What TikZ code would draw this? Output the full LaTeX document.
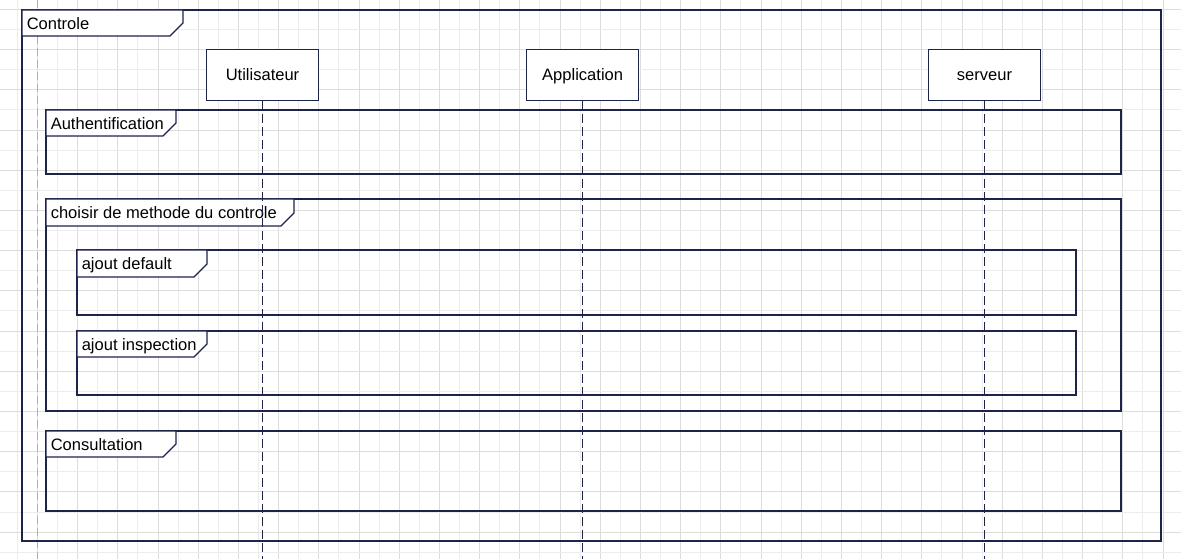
\documentclass[tikz,border=0pt]{standalone}
\usepackage{fontspec}
\setmainfont{Liberation Sans}
\usepackage{tikz}
\usetikzlibrary{positioning,calc}
\definecolor{navy}{RGB}{30,35,75}
\definecolor{gridlight}{RGB}{236,236,236}
\definecolor{griddark}{RGB}{220,220,220}
\definecolor{framegray}{RGB}{175,175,175}
\tikzstyle{actor} = [draw=navy, fill=white, rectangle, line width=0.8pt, minimum width=84pt, minimum height=38.25pt, text height=9pt, text depth=0pt, font=\fontsize{12.4}{14}\selectfont]
\tikzstyle{lifeline} = [draw=navy, line width=0.8pt, dash pattern=on 6.75pt off 3pt]
\tikzstyle{frag} = [draw=navy, line width=0.8pt]
\tikzstyle{fragtab} = [draw=navy, fill=white, line width=0.8pt]
\tikzstyle{fraglabel} = [anchor=base west, inner sep=0pt, font=\fontsize{12.4}{14}\selectfont]

\begin{document}
\begin{tikzpicture}[x=0.75pt, y=-0.75pt]
    \useasboundingbox (0,0) rectangle (1181,559);
    \fill[white] (0,0) rectangle (1181,559);
    % grid
    \foreach \k in {0,2,...,58} \draw[gridlight, line width=0.75pt] (17.3+20.1*\k,0) -- ++(0,559);
    \foreach \k in {1,3,...,57} \draw[griddark, line width=0.75pt] (17.3+20.1*\k,0) -- ++(0,559);
    \foreach \k in {1,3,...,27} \draw[gridlight, line width=0.75pt] (0,9.5+20.1*\k) -- ++(1181,0);
    \foreach \k in {0,2,...,26} \draw[griddark, line width=0.75pt] (0,9.5+20.1*\k) -- ++(1181,0);

    % frame lifeline
    \coordinate (gtop) at (37,0);
    \coordinate (gbot) at (37,559);
    \draw[framegray, line width=0.75pt, dash pattern=on 6pt off 3pt] (gtop) -- (gbot);

    % frames
    \foreach \xa/\ya/\xb/\yb/\tr/\tb/\nm/\lbl in {
        22/10/1161/541/183/36/controle/Controle,
        46/110/1121/174/176/136/auth/Authentification,
        46/199/1121/411/294/226/choix/choisir de methode du controle,
        77/250/1076/315/207/277/defaut/ajout default,
        77/331/1076/395/207/357/inspect/ajout inspection,
        46/431/1121/511/176/457/consult/Consultation}
    {
        \draw[frag] (\xa,\ya) rectangle (\xb,\yb);
        \filldraw[fragtab] (\xa,\ya) -- (\tr,\ya) -- (\tr,\tb-13) -- (\tr-13,\tb) -- (\xa,\tb) -- cycle;
        \node[fraglabel] (\nm) at (\xa+4.5,\ya+19.5) {\lbl};
    }

    % actors
    \node[actor] (user) at (262.5,74.8) {Utilisateur};
    \node[actor, right=155.3pt of user] (app) {Application};
    \node[actor, right=216.6pt of app] (server) {serveur};

    \coordinate (bottom) at (0,559);
    \draw[lifeline] (user) -- (user |- bottom);
    \draw[lifeline] (app) -- (app |- bottom);
    \draw[lifeline] (server) -- (server |- bottom);
\end{tikzpicture}
\end{document}
